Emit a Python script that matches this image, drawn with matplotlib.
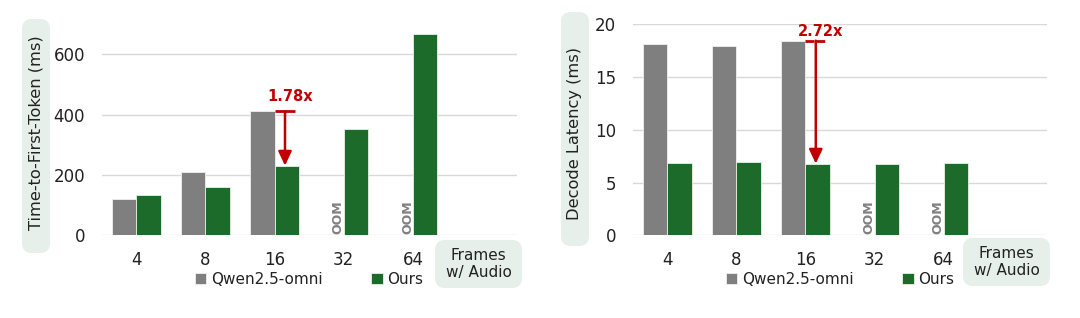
import numpy as np
import matplotlib
matplotlib.use("Agg")
import matplotlib.pyplot as plt
from matplotlib.patches import FancyBboxPatch

plt.rcParams['font.family'] = ['DejaVu Sans']

# data
frames = ["4", "8", "16", "32", "64"]
qwen_ttft = [120, 209, 411, None, None]
ours_ttft = [135, 159, 231, 352, 667]
qwen_decode = [18.13, 17.97, 18.45, None, None]
ours_decode = [6.82, 6.92, 6.79, 6.80, 6.85]
series_names = ["Qwen2.5-omni", "Ours"]
speedup_idx = 2

GRAY = "#7f7f7f"
GREEN = "#1d6b2b"
RED = "#c00000"
BOX = "#e6efe9"
TXT = "#222222"

fig = plt.figure(figsize=(10.8, 3.18), dpi=100)


def px_box(x0, y0, x1, y1):
    # rounded background box in pixel coords (top-left origin)
    p = FancyBboxPatch(((x0) / 100, (318 - y1) / 100), (x1 - x0) / 100, (y1 - y0) / 100,
                       boxstyle="round,pad=0,rounding_size=0.1",
                       transform=fig.dpi_scale_trans, facecolor=BOX, edgecolor="none",
                       zorder=0)
    fig.patches.append(p)


def draw_panel(rect, qwen, ours, ylim, yticks, ylabel, ylab_box, frame_box, ann_y, dashed):
    ax = fig.add_axes(rect)
    x = np.arange(len(frames))
    w = 0.355
    qv = [v if v is not None else 0 for v in qwen]
    qx = [xi - w / 2 for xi, v in zip(x, qwen) if v is not None]
    qh = [v for v in qwen if v is not None]
    ax.bar(qx, qh, w, color=GRAY, edgecolor="#f0f0f0", linewidth=0.6, zorder=3,
           label=series_names[0])
    ax.bar(x + w / 2, ours, w, color=GREEN, edgecolor="#e8f0e8", linewidth=0.6, zorder=3,
           label=series_names[1])
    for xi, v in zip(x, qwen):
        if v is None:
            ax.text(xi - 0.08, ylim[1] * 0.004, "OOM", rotation=90, ha="center", va="bottom",
                    fontsize=9, fontweight="bold", color="#808080", zorder=4)

    ax.set_xlim(-0.5, 5.5)
    ax.set_ylim(*ylim)
    ax.set_yticks(yticks)
    ax.set_xticks(x)
    ax.set_xticklabels(frames)
    ax.tick_params(length=0, labelsize=12, colors=TXT)
    ax.tick_params(axis="x", pad=11)
    ax.tick_params(axis="y", pad=12)
    ax.yaxis.grid(True, color="#d9d9d9", linewidth=1, zorder=0)
    for s in ax.spines.values():
        s.set_visible(False)

    # speedup annotation
    i = speedup_idx
    top = qv[i]
    low = ours[i]
    xa = i + 0.15
    ls = (0, (3.2, 0.7)) if dashed else "-"
    ax.plot([i, i + 0.3], [top, top], color=RED, lw=2, ls=ls, zorder=5, solid_capstyle="butt")
    ax.annotate("", xy=(xa, low), xytext=(xa, top),
                arrowprops=dict(arrowstyle="-|>,head_width=0.4,head_length=0.85",
                                color=RED, lw=1.8, shrinkA=0, shrinkB=0,
                                mutation_scale=10), zorder=5)
    ax.text(i + 0.22, ann_y, f"{top / low:.2f}x", ha="center", va="center",
            fontsize=10.5, fontweight="bold", color=RED, zorder=6)

    ax.legend(loc="center", bbox_to_anchor=(0.5, -0.21), ncol=2, frameon=False,
              fontsize=11, handlelength=0.75, handleheight=0.75, handletextpad=0.3,
              columnspacing=3.2, labelcolor=TXT)

    px_box(*ylab_box)
    cx = (ylab_box[0] + ylab_box[2]) / 2
    fig.text(cx / 1080, 1 - 133 / 318, ylabel, rotation=90, ha="center", va="center",
             fontsize=11.7, color=TXT)
    px_box(*frame_box)
    fx = (frame_box[0] + frame_box[2]) / 2
    fy = (frame_box[1] + frame_box[3]) / 2
    fig.text(fx / 1080, 1 - fy / 318, "Frames\nw/ Audio", ha="center", va="center",
             fontsize=11, color=TXT, linespacing=1.15)
    return ax


draw_panel([0.0942, 0.260, 0.3842, 0.6635], qwen_ttft, ours_ttft, (0, 700),
           [0, 200, 400, 600], "Time-to-First-Token (ms)",
           (22, 19, 50, 253), (435, 240, 522, 288), 462, False)
draw_panel([0.5858, 0.260, 0.3839, 0.6635], qwen_decode, ours_decode, (0, 20),
           [0, 5, 10, 15, 20], "Decode Latency (ms)",
           (561, 12, 589, 246), (963, 238, 1050, 286), 19.3, True)

fig.savefig("out.png", dpi=100)
